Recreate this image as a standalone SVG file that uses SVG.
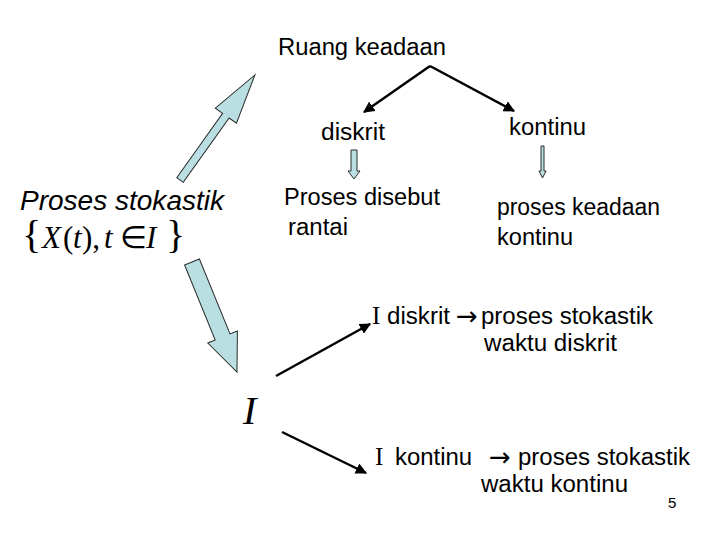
<svg xmlns="http://www.w3.org/2000/svg" width="720" height="540" viewBox="0 0 720 540">
<style>
.t{font-family:"Liberation Sans",Arial,sans-serif;font-size:23px;fill:#000}
.s{font-family:"Liberation Serif","Times New Roman",serif;fill:#000}
.ar{font-family:"DejaVu Sans",sans-serif;font-size:26px;fill:#000}
.blk{fill:#b9dfe2;stroke:#2a2a2a;stroke-width:1}
.ln{stroke:#000;stroke-width:2.5;fill:none;marker-end:url(#ah)}
</style>
<defs>
<marker id="ah" viewBox="0 0 10 10" refX="9" refY="5" markerWidth="4.5" markerHeight="4.5" orient="auto" markerUnits="strokeWidth">
<path d="M0,0 L10,5 L0,10 z" fill="#000"/>
</marker>
</defs>
<rect width="720" height="540" fill="#fff"/>

<g id="connectors">
<line class="ln" x1="430" y1="66" x2="364" y2="112"/>
<line class="ln" x1="430" y1="66" x2="514" y2="111"/>
<line class="ln" x1="276" y1="376" x2="370" y2="324"/>
<line class="ln" x1="282" y1="432" x2="366" y2="473"/>
<polygon class="blk" transform="translate(180,180) rotate(-54.5)" points="0,-4 79,-4 79,-13 129,0 79,13 79,4 0,4"/>
<polygon class="blk" transform="translate(192,262) rotate(67.8)" points="0,-8 81,-8 81,-16 119,0 81,16 81,8 0,8"/>
<polygon class="blk" points="351,150 357,150 357,171 360,171 354,179 348,171 351,171"/>
<polygon class="blk" points="541,146 544,146 544,171 546,171 542.5,178 539,171 541,171"/>
</g>

<g id="ruang"><text class="t" x="278" y="55" textLength="168" lengthAdjust="spacingAndGlyphs">Ruang keadaan</text></g>
<g id="diskrit"><text class="t" x="321" y="140" textLength="64" lengthAdjust="spacingAndGlyphs">diskrit</text></g>
<g id="kontinu"><text class="t" x="509" y="135" textLength="77" lengthAdjust="spacingAndGlyphs">kontinu</text></g>
<g id="rantai">
<text class="t" x="284" y="205" textLength="156" lengthAdjust="spacingAndGlyphs">Proses disebut</text>
<text class="t" x="288" y="235" textLength="60" lengthAdjust="spacingAndGlyphs">rantai</text>
</g>
<g id="keadaan-kontinu">
<text class="t" x="497" y="215" textLength="163" lengthAdjust="spacingAndGlyphs">proses keadaan</text>
<text class="t" x="497" y="245" textLength="76" lengthAdjust="spacingAndGlyphs">kontinu</text>
</g>
<g id="stokastik">
<text class="t" x="20" y="210" style="font-size:27px;font-style:italic" textLength="204" lengthAdjust="spacingAndGlyphs">Proses stokastik</text>
<text class="s" y="248" style="font-size:31px"><tspan x="22" style="font-size:40px">{</tspan><tspan x="42" font-style="italic">X</tspan><tspan x="63">(</tspan><tspan x="73" font-style="italic">t</tspan><tspan x="82">),</tspan><tspan x="104" font-style="italic">t</tspan><tspan x="120">∈</tspan><tspan x="146" font-style="italic">I</tspan><tspan x="166" style="font-size:40px">}</tspan></text>
</g>
<g id="I-node"><text class="s" x="243" y="424" style="font-size:40px;font-style:italic">I</text></g>
<g id="i-diskrit">
<text class="s" x="372" y="324" style="font-size:25px">I</text>
<text class="t" x="387" y="324" textLength="63" lengthAdjust="spacingAndGlyphs">diskrit</text>
<text class="ar" x="456" y="325">→</text>
<text class="t" x="481" y="324" textLength="172" lengthAdjust="spacingAndGlyphs">proses stokastik</text>
<text class="t" x="484" y="351" textLength="133" lengthAdjust="spacingAndGlyphs">waktu diskrit</text>
</g>
<g id="i-kontinu">
<text class="s" x="375" y="465" style="font-size:25px">I</text>
<text class="t" x="395" y="465" textLength="77" lengthAdjust="spacingAndGlyphs">kontinu</text>
<text class="ar" x="489" y="466">→</text>
<text class="t" x="518" y="465" textLength="172" lengthAdjust="spacingAndGlyphs">proses stokastik</text>
<text class="t" x="481" y="492" textLength="147" lengthAdjust="spacingAndGlyphs">waktu kontinu</text>
</g>
<g id="page"><text class="t" x="668" y="508" style="font-size:15px">5</text></g>
</svg>
